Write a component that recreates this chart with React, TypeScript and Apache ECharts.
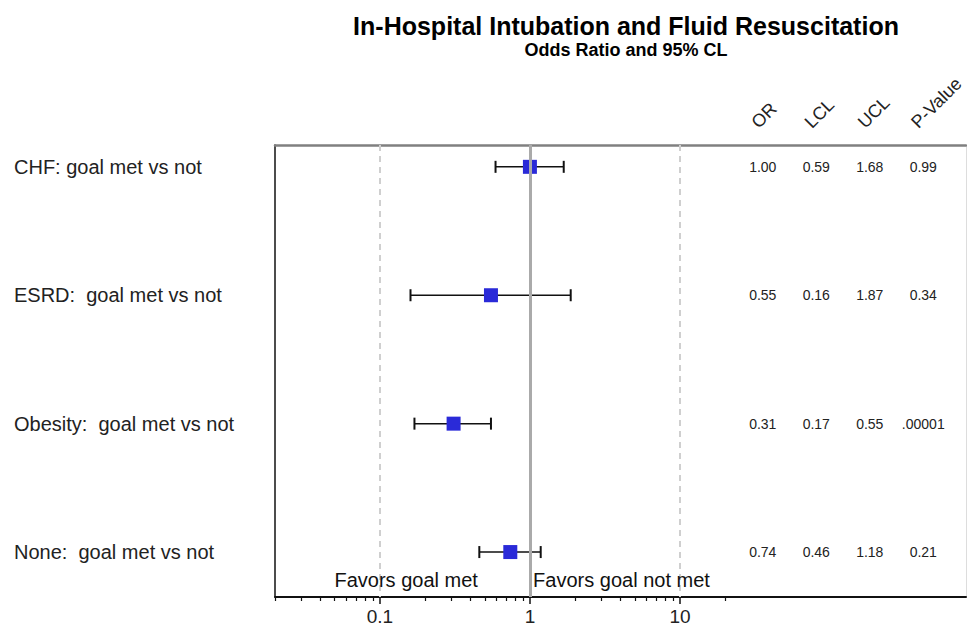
import React, { useEffect, useRef } from "react";
import * as echarts from "echarts";

const categories = [
  "CHF: goal met vs not",
  "ESRD:  goal met vs not",
  "Obesity:  goal met vs not",
  "None:  goal met vs not",
];
const oddsRatio = [1.0, 0.55, 0.31, 0.74];
const lowerCL = [0.59, 0.16, 0.17, 0.46];
const upperCL = [1.68, 1.87, 0.55, 1.18];
const pValues = ["0.99", "0.34", ".00001", "0.21"];
const tableHeaders = ["OR", "LCL", "UCL", "P-Value"];
const majorTicks = [0.1, 1, 10];
const minorTicks = [
  0.02, 0.03, 0.04, 0.05, 0.06, 0.07, 0.08, 0.09,
  0.2, 0.3, 0.4, 0.5, 0.6, 0.7, 0.8, 0.9,
  2, 3, 4, 5, 6, 7, 8, 9, 20,
];
const dashedRefs = [0.1, 10];
const solidRef = 1;
const favorsText = ["Favors goal met", "Favors goal not met"];
const favorsAnchor = [0.45, 1.05];
const favorsRow = 3.22;

const X_MIN = 0.02;
const X_MAX = 806;
const Y_MIN = -0.17;
const Y_MAX = 3.35;
const FONT = "'Liberation Sans', Arial, Helvetica, sans-serif";

export default function App() {
  const ref = useRef<HTMLDivElement>(null);
  useEffect(() => {
    if (!ref.current) return;
    const chart = echarts.init(ref.current, null, { renderer: "svg" });

    const hidden = {
      axisLine: { show: false, onZero: false },
      axisTick: { show: false },
      axisLabel: { show: false },
      splitLine: { show: false },
    };

    const tableData: any[] = [];
    categories.forEach((_, i) => {
      tableData.push([0, i, oddsRatio[i].toFixed(2)]);
      tableData.push([1, i, lowerCL[i].toFixed(2)]);
      tableData.push([2, i, upperCL[i].toFixed(2)]);
      tableData.push([3, i, pValues[i]]);
    });

    const option: any = {
      animation: false,
      backgroundColor: "#ffffff",
      textStyle: { fontFamily: FONT },
      title: {
        text: "In-Hospital Intubation and Fluid Resuscitation",
        subtext: "Odds Ratio and 95% CL",
        left: 621,
        top: 8,
        textAlign: "center",
        itemGap: 3,
        textStyle: { fontFamily: FONT, fontSize: 25, fontWeight: "bold", color: "#000" },
        subtextStyle: { fontFamily: FONT, fontSize: 18, fontWeight: "bold", color: "#000" },
      },
      grid: [
        { left: 275, right: 1, top: 145, height: 452 },
        { left: 736, width: 214, top: 145, height: 452 },
        { left: 728, width: 214, top: 129, height: 10 },
      ],
      xAxis: [
        {
          type: "log",
          gridIndex: 0,
          position: "bottom",
          min: X_MIN,
          max: X_MAX,
          axisLine: { show: true, onZero: false, lineStyle: { color: "#111", width: 2 } },
          axisTick: { show: true, length: 7, lineStyle: { color: "#111", width: 1.5 }, customValues: majorTicks },
          axisLabel: {
            show: true,
            customValues: majorTicks,
            margin: 10,
            fontSize: 19,
            color: "#222",
            fontFamily: FONT,
            formatter: (v: number) => String(v),
          },
          splitLine: { show: false },
          minorTick: { show: false },
        },
        {
          type: "log",
          gridIndex: 0,
          position: "bottom",
          min: X_MIN,
          max: X_MAX,
          axisLine: { show: false, onZero: false },
          axisTick: { show: true, length: 4, lineStyle: { color: "#111", width: 1.2 }, customValues: minorTicks },
          axisLabel: { show: false },
          splitLine: { show: false },
        },
        {
          type: "value",
          gridIndex: 0,
          position: "top",
          min: 0,
          max: 1,
          ...hidden,
          axisLine: { show: true, onZero: false, lineStyle: { color: "#808080", width: 2.5 } },
        },
        {
          type: "category",
          gridIndex: 1,
          data: tableHeaders,
          ...hidden,
        },
        {
          type: "category",
          gridIndex: 2,
          position: "top",
          data: tableHeaders,
          axisLine: { show: false },
          axisTick: { show: false },
          splitLine: { show: false },
          axisLabel: {
            show: true,
            rotate: 45,
            margin: 4,
            interval: 0,
            fontSize: 18,
            color: "#222",
            fontFamily: FONT,
          },
        },
      ],
      yAxis: [
        {
          type: "value",
          gridIndex: 0,
          inverse: true,
          min: Y_MIN,
          max: Y_MAX,
          axisLine: { show: true, onZero: false, lineStyle: { color: "#111", width: 1.5 } },
          axisTick: { show: false },
          splitLine: { show: false },
          axisLabel: {
            show: true,
            customValues: [0, 1, 2, 3],
            align: "left",
            margin: 261,
            fontSize: 20,
            color: "#222",
            fontFamily: FONT,
            formatter: (v: number) => categories[Math.round(v)] ?? "",
          },
        },
        {
          type: "value",
          gridIndex: 0,
          position: "right",
          min: 0,
          max: 1,
          ...hidden,
          axisLine: { show: true, onZero: false, lineStyle: { color: "#dddddd", width: 1 } },
        },
        {
          type: "value",
          gridIndex: 1,
          inverse: true,
          min: Y_MIN,
          max: Y_MAX,
          ...hidden,
        },
        {
          type: "value",
          gridIndex: 2,
          min: 0,
          max: 1,
          axisLine: { show: false },
          axisTick: { show: false },
          axisLabel: { show: false },
          splitLine: { show: false },
        },
      ],
      series: [
        {
          type: "custom",
          xAxisIndex: 0,
          yAxisIndex: 0,
          z: 2,
          encode: { x: [0, 1], y: 2 },
          data: categories.map((_, i) => [lowerCL[i], upperCL[i], i]),
          renderItem: (params: any, api: any) => {
            const lo = api.coord([api.value(0), api.value(2)]);
            const hi = api.coord([api.value(1), api.value(2)]);
            const h = 6;
            const st = { stroke: "#111", lineWidth: 1.5 };
            const cap = { stroke: "#111", lineWidth: 2 };
            return {
              type: "group",
              children: [
                { type: "line", shape: { x1: lo[0], y1: lo[1], x2: hi[0], y2: hi[1] }, style: st },
                { type: "line", shape: { x1: lo[0], y1: lo[1] - h, x2: lo[0], y2: lo[1] + h }, style: cap },
                { type: "line", shape: { x1: hi[0], y1: hi[1] - h, x2: hi[0], y2: hi[1] + h }, style: cap },
              ],
            };
          },
        },
        {
          type: "scatter",
          xAxisIndex: 0,
          yAxisIndex: 0,
          z: 3,
          symbol: "rect",
          symbolSize: 14,
          itemStyle: { color: "#2a2ad8", opacity: 1 },
          data: categories.map((_, i) => [oddsRatio[i], i]),
        },
        {
          type: "scatter",
          xAxisIndex: 0,
          yAxisIndex: 0,
          z: 5,
          symbolSize: 0,
          silent: true,
          itemStyle: { opacity: 1 },
          data: favorsText.map((t, i) => ({ value: [favorsAnchor[i], favorsRow], name: t })),
          label: {
            show: true,
            position: "inside",
            formatter: (p: any) => p.name,
            fontSize: 20,
            color: "#111",
            fontFamily: FONT,
            align: "left",
          },
          labelLayout: (p: any) => (p.dataIndex === 0 ? { align: "right" } : { align: "left" }),
          markLine: {
            silent: true,
            symbol: "none",
            label: { show: false },
            data: [
              ...dashedRefs.map((v) => ({
                xAxis: v,
                lineStyle: { color: "#cfcfcf", width: 2, type: [6, 5] },
              })),
              { xAxis: solidRef, lineStyle: { color: "#aaaaaa", width: 3, type: "solid" } },
            ],
          },
        },
        {
          type: "scatter",
          xAxisIndex: 3,
          yAxisIndex: 2,
          symbolSize: 0,
          silent: true,
          itemStyle: { opacity: 1 },
          data: tableData,
          label: {
            show: true,
            position: "inside",
            formatter: (p: any) => p.data[2],
            fontSize: 14,
            color: "#222",
            fontFamily: FONT,
          },
        },
      ],
    };
    chart.setOption(option);
    return () => chart.dispose();
  }, []);
  return (
    <div
      ref={ref}
      style={{ position: "fixed", left: 0, top: 0, width: 967, height: 634, background: "#fff" }}
    />
  );
}
